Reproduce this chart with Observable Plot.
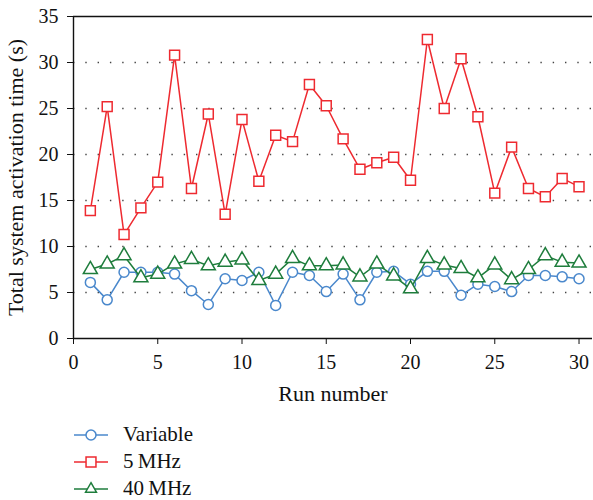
<!DOCTYPE html>
<html>
<head>
<meta charset="utf-8">
<script src="https://cdn.jsdelivr.net/npm/d3@7"></script>
<script src="https://cdn.jsdelivr.net/npm/@observablehq/plot@0.6"></script>
<style>
  body { margin: 0; background: #fff; font-family: "Liberation Serif", serif; }
  #legend { margin-left: 74px; margin-top: 11px; }
  .row { display: flex; align-items: center; height: 27px; font-size: 21px; color: #111; }
  .row svg { margin-right: 13px; }
  #chart svg text { font-family: "Liberation Serif", serif !important; font-size: 20px !important; }
  #chart svg g[aria-label="x-axis label"] text,
  #chart svg g[aria-label="y-axis label"] text { font-size: 22px !important; }
</style>
</head>
<body>
<div id="chart"></div>
<div id="legend"></div>
<script>
const runs = d3.range(1, 31);
const variable = [6.1,4.2,7.2,7.2,7.2,7.0,5.2,3.7,6.5,6.3,7.2,3.6,7.2,6.85,5.1,7.0,4.2,7.2,7.3,5.9,7.3,7.3,4.7,5.9,5.65,5.1,6.85,6.85,6.7,6.5];
const mhz5 = [13.9,25.2,11.3,14.2,17.0,30.8,16.3,24.4,13.5,23.8,17.1,22.1,21.4,27.6,25.3,21.7,18.4,19.1,19.7,17.2,32.5,25.0,30.4,24.1,15.8,20.8,16.3,15.4,17.4,16.5];
const mhz40 = [7.5,8.1,9.0,6.6,7.0,8.1,8.6,7.9,8.3,8.55,6.3,7.0,8.7,7.9,7.9,8.0,6.7,8.1,6.8,5.4,8.7,8.0,7.6,6.6,8.0,6.4,7.5,9.0,8.3,8.2];
const seriesNames = ["Variable", "5\u2009MHz", "40\u2009MHz"];
const seriesColors = ["#4a88cc", "#ee2a30", "#1e7d3c"];
const seriesSymbols = ["circle", "square", "triangle"];
const seriesR = [5, 5.6, 5.2];
const xTicks = [0, 5, 10, 15, 20, 25, 30];
const yTicks = [0, 5, 10, 15, 20, 25, 30, 35];
const gridTicks = [5, 10, 15, 20, 25, 30];

const allSeries = [variable, mhz5, mhz40].map((vals, k) =>
  vals.map((v, i) => ({run: runs[i], value: v, series: seriesNames[k], k})));

const marks = [
  Plot.gridY(gridTicks, {stroke: "#444", strokeOpacity: 1, strokeWidth: 1.6, strokeDasharray: "1.4,10.9"}),
  Plot.ruleY([35], {stroke: "#111", strokeWidth: 1.4}),
  Plot.ruleY([0], {stroke: "#111", strokeWidth: 1.4}),
  Plot.ruleX([0], {stroke: "#111", strokeWidth: 1.4}),
  Plot.axisX({ticks: xTicks, tickSize: 6, tickPadding: 10, fontSize: 20, label: null}),
  Plot.axisX({ticks: [], tickSize: 0, label: "Run number", labelAnchor: "center", labelOffset: 62, labelArrow: "none"}),
  Plot.axisY({ticks: yTicks, tickSize: 6, tickPadding: 9, fontSize: 20, label: null}),
  Plot.axisY({ticks: [], tickSize: 0, label: "Total system activation time (s)", labelAnchor: "center", labelOffset: 66, labelArrow: "none"})
];
allSeries.forEach((data, k) => {
  marks.push(Plot.line(data, {x: "run", y: "value", stroke: seriesColors[k], strokeWidth: 1.5}));
  marks.push(Plot.dot(data, {x: "run", y: "value", stroke: seriesColors[k], fill: "white", strokeWidth: 1.5, symbol: seriesSymbols[k], r: seriesR[k]}));
});

const chart = Plot.plot({
  width: 593,
  height: 410,
  marginLeft: 73,
  marginRight: 1,
  marginTop: 16,
  marginBottom: 72,
  style: {fontFamily: "Liberation Serif, serif", fontSize: "20px", color: "#111", background: "white", overflow: "visible"},
  x: {domain: [0, 30.8]},
  y: {domain: [0, 35]},
  marks
});
document.getElementById("chart").appendChild(chart);

// Legend below the plot
const legend = d3.select("#legend");
seriesNames.forEach((name, k) => {
  const row = legend.append("div").attr("class", "row");
  const svg = row.append("svg").attr("width", 36).attr("height", 16);
  svg.append("line").attr("x1", 0).attr("x2", 34).attr("y1", 8).attr("y2", 8)
    .attr("stroke", seriesColors[k]).attr("stroke-width", 1.5);
  const sym = {circle: d3.symbolCircle, square: d3.symbolSquare, triangle: d3.symbolTriangle2}[seriesSymbols[k]];
  svg.append("path").attr("d", d3.symbol(sym, Math.PI * seriesR[k] * seriesR[k])())
    .attr("transform", "translate(17,8)")
    .attr("fill", "white").attr("stroke", seriesColors[k]).attr("stroke-width", 1.5);
  row.append("span").text(name);
});
</script>
</body>
</html>
